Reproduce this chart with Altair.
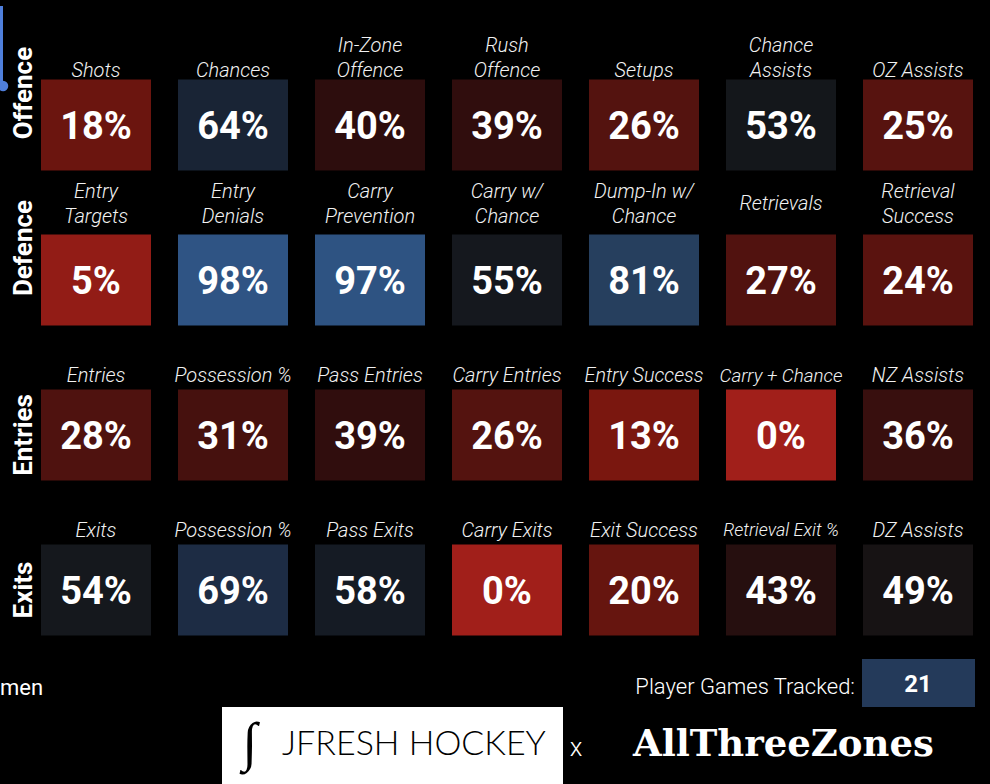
import altair as alt
import pandas as pd

# ---------------- data ----------------
rows = ["Offence", "Defence", "Entries", "Exits"]

offence_labels = ["Shots", "Chances", "In-Zone\nOffence", "Rush\nOffence", "Setups", "Chance\nAssists", "OZ Assists"]
offence_values = [18, 64, 40, 39, 26, 53, 25]

defence_labels = ["Entry\nTargets", "Entry\nDenials", "Carry\nPrevention", "Carry w/\nChance", "Dump-In w/\nChance", "Retrievals", "Retrieval\nSuccess"]
defence_values = [5, 98, 97, 55, 81, 27, 24]

entries_labels = ["Entries", "Possession %", "Pass Entries", "Carry Entries", "Entry Success", "Carry + Chance", "NZ Assists"]
entries_values = [28, 31, 39, 26, 13, 0, 36]

exits_labels = ["Exits", "Possession %", "Pass Exits", "Carry Exits", "Exit Success", "Retrieval Exit %", "DZ Assists"]
exits_values = [54, 69, 58, 0, 20, 43, 49]

games_tracked = 21
position_group = "men"

# colour ramp read from the tiles (percentile -> tile colour)
ramp_domain = [0, 13, 25, 40, 50, 58, 69, 81, 100]
ramp_colors = ["#a11f1a", "#7a170f", "#57130f", "#2d0d0d", "#141415",
               "#151b24", "#1d2c44", "#263f5e", "#305789"]

all_labels = [offence_labels, defence_labels, entries_labels, exits_labels]
all_values = [offence_values, defence_values, entries_values, exits_values]


def text_units(s):
    # rough relative width of a label line, used to shrink long labels to fit
    u = 0.0
    for ch in s:
        if ch in "iltrfj /|.:!":
            u += 0.55
        elif ch in "mwMW%":
            u += 1.4
        elif ch.isupper():
            u += 1.15
        else:
            u += 1.0
    return u


records = []
for r, (labs, vals) in enumerate(zip(all_labels, all_values)):
    for c, (lab, val) in enumerate(zip(labs, vals)):
        lines = lab.split("\n")
        records.append({
            "row": r, "col": c, "label": lab, "value": val,
            "units": max(text_units(s) for s in lines),
            "nlines": len(lines),
        })
df = pd.DataFrame(records)
row_df = pd.DataFrame({"row": list(range(len(rows))), "name": rows})

# ---------------- scales ----------------
xs = alt.Scale(domain=[-0.7007, 6.5255], nice=False, zero=False)
ys = alt.Scale(domain=[-0.806, 4.2516], nice=False, zero=False, reverse=True)
cs = alt.Scale(domain=ramp_domain, range=ramp_colors, interpolate="rgb")

base = alt.Chart(df).transform_calculate(
    x1="datum.col - 0.4015",
    x2="datum.col + 0.4015",
    y1="datum.row - 0.2935",
    y2="datum.row + 0.2935",
    pct="datum.value + '%'",
    fs="min(20, 20 * 11.8 / datum.units)",
)

tiles = base.mark_rect().encode(
    x=alt.X("x1:Q", scale=xs, axis=None),
    x2="x2:Q",
    y=alt.Y("y1:Q", scale=ys, axis=None),
    y2="y2:Q",
    color=alt.Color("value:Q", scale=cs, legend=None),
)

vals = base.mark_text(
    font="Roboto", fontWeight=700, fontSize=38, color="white",
    align="center", baseline="middle", dy=3,
).encode(
    x=alt.X("col:Q", scale=xs, axis=None),
    y=alt.Y("row:Q", scale=ys, axis=None),
    text="pct:N",
)

lab_style = dict(font="Roboto", fontStyle="italic", fontWeight=300, color="#f2f2f2",
                 align="center", baseline="middle", lineBreak="\n", lineHeight=25)

# rows 0, 2, 3: labels sit on the tile (last line just above it)
labels_main = base.transform_filter("datum.row != 1").transform_calculate(
    ly="datum.row - 0.2935 - (datum.row == 0 ? 0.0516 : 0.0839) - (datum.nlines - 1) * 0.1613"
).mark_text(**lab_style).encode(
    x=alt.X("col:Q", scale=xs, axis=None),
    y=alt.Y("ly:Q", scale=ys, axis=None),
    text="label:N",
    size=alt.Size("fs:Q", scale=None),
)

# row 1: labels vertically centred in the label band
labels_def = base.transform_filter("datum.row == 1").transform_calculate(
    ly="datum.row - 0.487 - (datum.nlines - 1) * 0.0806"
).mark_text(**lab_style).encode(
    x=alt.X("col:Q", scale=xs, axis=None),
    y=alt.Y("ly:Q", scale=ys, axis=None),
    text="label:N",
    size=alt.Size("fs:Q", scale=None),
)

row_labels = alt.Chart(row_df).transform_calculate(
    rly="datum.row < 2 ? datum.row - 0.206 : datum.row"
).mark_text(
    font="Roboto", fontWeight=700, fontSize=26, color="white",
    angle=270, align="center", baseline="middle",
).encode(
    x=alt.value(24),
    y=alt.Y("rly:Q", scale=ys, axis=None),
    text="name:N",
)

# ---------------- footer ----------------
foot = alt.Chart(pd.DataFrame({"games": [games_tracked], "grp": [position_group]}))

games_label = foot.mark_text(font="Roboto", fontWeight=300, fontSize=22, color="white",
                             align="right", baseline="middle").encode(
    x=alt.value(855), y=alt.value(687), text=alt.value("Player Games Tracked:"))
games_box = foot.mark_rect(color="#243a5a").encode(
    x=alt.value(862), x2=alt.value(975), y=alt.value(659), y2=alt.value(707))
games_num = foot.mark_text(font="Roboto", fontWeight=700, fontSize=24, color="white",
                           align="center", baseline="middle").encode(
    x=alt.value(918), y=alt.value(685), text="games:N")

grp_text = foot.mark_text(font="Roboto", fontWeight=400, fontSize=22, color="white",
                          align="left", baseline="middle").encode(
    x=alt.value(0), y=alt.value(688), text="grp:N")

logo_box = foot.mark_rect(color="white").encode(
    x=alt.value(222), x2=alt.value(563), y=alt.value(707), y2=alt.value(784))
logo_glyph = foot.mark_text(font="DejaVu Sans", fontWeight=300, fontSize=54, color="black",
                            align="center", baseline="middle").encode(
    x=alt.value(250), y=alt.value(744), text=alt.value("∫"))
logo_text = foot.mark_text(font="Lato", fontWeight=300, fontSize=34, color="black",
                           align="left", baseline="middle").encode(
    x=alt.value(282), y=alt.value(745), text=alt.value("JFRESH HOCKEY"))
x_text = foot.mark_text(font="Roboto", fontWeight=300, fontSize=26, color="white",
                        align="center", baseline="middle").encode(
    x=alt.value(576), y=alt.value(748), text=alt.value("x"))
atz_text = foot.mark_text(font="DejaVu Serif", fontWeight=700, fontSize=37, color="white",
                          align="left", baseline="middle").encode(
    x=alt.value(633), y=alt.value(745), text=alt.value("AllThreeZones"))

# decoration at top-left
deco_line = foot.mark_rule(color="#4f7fdc", strokeWidth=3).encode(
    x=alt.value(1.5), y=alt.value(6), y2=alt.value(84))
deco_dot = foot.mark_point(color="#4f7fdc", filled=True, opacity=1, size=110).encode(
    x=alt.value(3), y=alt.value(86))

chart = alt.layer(
    tiles, vals, labels_main, labels_def, row_labels,
    games_label, games_box, games_num, grp_text,
    logo_box, logo_glyph, logo_text, x_text, atz_text,
    deco_line, deco_dot,
).properties(
    width=990, height=784, background="black", padding=0,
    autosize=alt.AutoSizeParams(type="none"),
).configure_view(stroke=None)

chart.save("out.html", embed_options={"renderer": "svg", "actions": False})
